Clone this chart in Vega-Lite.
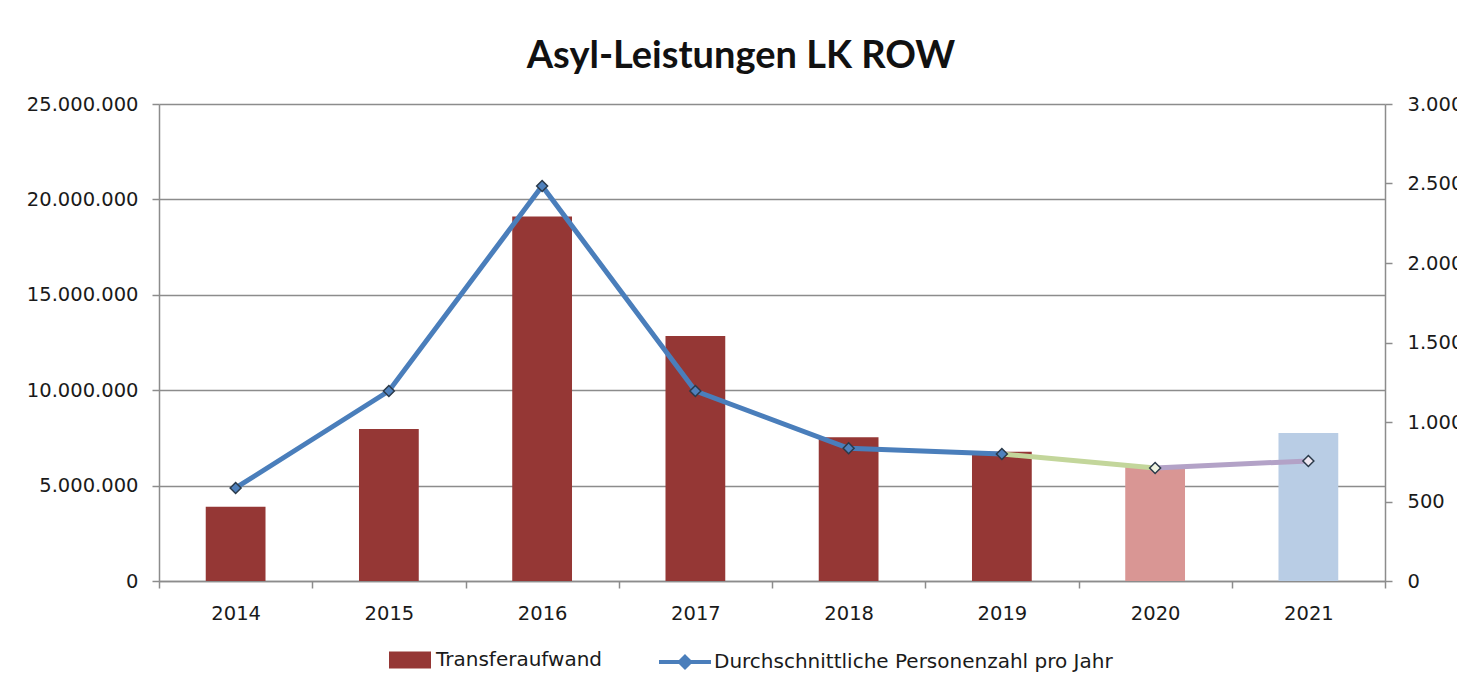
{
  "$schema": "https://vega.github.io/schema/vega-lite/v6.json",
  "width": 1226,
  "height": 477,
  "autosize": {"type": "none"},
  "padding": {"left": 159, "top": 104, "right": 72, "bottom": 107},
  "background": "white",
  "title": {
    "text": "Asyl-Leistungen LK ROW",
    "font": "Lato",
    "fontSize": 38,
    "fontWeight": "bold",
    "color": "#111111",
    "anchor": "middle",
    "dx": -31,
    "dy": 39,
    "baseline": "alphabetic",
    "offset": 27
  },
  "datasets": {
    "kosten": [
      {"Jahr": "2014", "Transferaufwand": 3890000},
      {"Jahr": "2015", "Transferaufwand": 7970000},
      {"Jahr": "2016", "Transferaufwand": 19100000},
      {"Jahr": "2017", "Transferaufwand": 12840000},
      {"Jahr": "2018", "Transferaufwand": 7530000},
      {"Jahr": "2019", "Transferaufwand": 6780000},
      {"Jahr": "2020", "Transferaufwand": 5970000},
      {"Jahr": "2021", "Transferaufwand": 7760000}
    ],
    "linie": [
      {"Jahr": "2014", "Personen": 585, "Abschnitt": "A"},
      {"Jahr": "2015", "Personen": 1195, "Abschnitt": "A"},
      {"Jahr": "2016", "Personen": 2484, "Abschnitt": "A"},
      {"Jahr": "2017", "Personen": 1195, "Abschnitt": "A"},
      {"Jahr": "2018", "Personen": 835, "Abschnitt": "A"},
      {"Jahr": "2019", "Personen": 799, "Abschnitt": "A"},
      {"Jahr": "2019", "Personen": 799, "Abschnitt": "B"},
      {"Jahr": "2020", "Personen": 711, "Abschnitt": "B"},
      {"Jahr": "2020", "Personen": 711, "Abschnitt": "C"},
      {"Jahr": "2021", "Personen": 755, "Abschnitt": "C"}
    ],
    "personen": [
      {"Jahr": "2014", "Personen": 585},
      {"Jahr": "2015", "Personen": 1195},
      {"Jahr": "2016", "Personen": 2484},
      {"Jahr": "2017", "Personen": 1195},
      {"Jahr": "2018", "Personen": 835},
      {"Jahr": "2019", "Personen": 799},
      {"Jahr": "2020", "Personen": 711},
      {"Jahr": "2021", "Personen": 755}
    ]
  },
  "layer": [
    {
      "data": {"name": "kosten"},
      "mark": {"type": "bar", "width": {"band": 0.39}},
      "encoding": {
        "x": {
          "field": "Jahr",
          "type": "ordinal",
          "scale": {"paddingInner": 0, "paddingOuter": 0},
          "axis": {"title": null, "labelAngle": 0, "tickBand": "extent", "labelPadding": 16, "grid": false}
        },
        "y": {
          "field": "Transferaufwand",
          "type": "quantitative",
          "scale": {"domain": [0, 25000000]},
          "axis": {
            "title": null,
            "values": [0, 5000000, 10000000, 15000000, 20000000, 25000000],
            "format": ",d",
            "grid": true,
            "labelPadding": 14
          }
        },
        "fill": {
          "condition": [
            {"test": "datum.Jahr === '2020'", "value": "#D99694"},
            {"test": "datum.Jahr === '2021'", "value": "#B9CDE5"}
          ],
          "datum": "Transferaufwand",
          "type": "nominal",
          "scale": {"domain": ["Transferaufwand"], "range": ["#953735"]},
          "legend": {
            "title": null,
            "orient": "none",
            "legendX": 230,
            "legendY": 535,
            "symbolType": "M-1,-0.4H1V0.4H-1Z",
            "symbolSize": 1764,
            "symbolStrokeWidth": 0,
            "labelOffset": 5
          }
        }
      }
    },
    {
      "layer": [
        {
          "data": {"name": "linie"},
          "transform": [{"filter": "datum.Abschnitt === 'A'"}],
          "mark": {"type": "line", "strokeWidth": 5},
          "encoding": {
            "x": {"field": "Jahr", "type": "ordinal"},
            "y": {"field": "Personen", "type": "quantitative"},
            "stroke": {
              "datum": "Durchschnittliche Personenzahl pro Jahr",
              "type": "nominal",
              "scale": {"domain": ["Durchschnittliche Personenzahl pro Jahr"], "range": ["#4A7EBB"]},
              "legend": {
                "title": null,
                "orient": "none",
                "legendX": 498,
                "legendY": 530,
                "symbolType": "M-1,0H1M0,-0.2L0.2,0L0,0.2L-0.2,0Z",
                "symbolSize": 2704,
                "symbolStrokeWidth": 4,
                "labelOffset": 1,
                "encode": {"symbols": {"update": {"fill": {"value": "#4F81BD"}}}}
              }
            }
          }
        },
        {
          "data": {"name": "linie"},
          "transform": [{"filter": "datum.Abschnitt === 'B'"}],
          "mark": {"type": "line", "strokeWidth": 5, "stroke": "#C3D69B"},
          "encoding": {
            "x": {"field": "Jahr", "type": "ordinal"},
            "y": {"field": "Personen", "type": "quantitative"}
          }
        },
        {
          "data": {"name": "linie"},
          "transform": [{"filter": "datum.Abschnitt === 'C'"}],
          "mark": {"type": "line", "strokeWidth": 5, "stroke": "#B3A2C7"},
          "encoding": {
            "x": {"field": "Jahr", "type": "ordinal"},
            "y": {"field": "Personen", "type": "quantitative"}
          }
        },
        {
          "data": {"name": "personen"},
          "mark": {"type": "point", "shape": "diamond", "filled": true, "size": 120, "stroke": "#2b3a4a", "strokeWidth": 1.5, "opacity": 1},
          "encoding": {
            "x": {"field": "Jahr", "type": "ordinal"},
            "y": {
              "field": "Personen",
              "type": "quantitative",
              "scale": {"domain": [0, 3000]},
              "axis": {
                "title": null,
                "orient": "right",
                "values": [0, 500, 1000, 1500, 2000, 2500, 3000],
                "format": ",d",
                "grid": false,
                "labelPadding": 15
              }
            },
            "fill": {
              "condition": [
                {"test": "datum.Jahr === '2020'", "value": "#EEF3E0"},
                {"test": "datum.Jahr === '2021'", "value": "#ECE6F0"}
              ],
              "value": "#4F81BD"
            }
          }
        }
      ]
    }
  ],
  "resolve": {"scale": {"y": "independent", "fill": "independent", "stroke": "independent"}},
  "config": {
    "locale": {"number": {"decimal": ",", "thousands": ".", "grouping": [3], "currency": ["", " €"]}},
    "view": {"stroke": null},
    "axis": {
      "labelFont": "DejaVu Sans",
      "labelFontSize": 19.5,
      "labelColor": "#1a1a1a",
      "domainColor": "#8c8c8c",
      "domainWidth": 1.5,
      "tickColor": "#8c8c8c",
      "tickWidth": 1.5,
      "tickSize": 7,
      "gridColor": "#8c8c8c",
      "gridWidth": 1.5
    },
    "legend": {
      "labelFont": "DejaVu Sans",
      "labelFontSize": 20,
      "labelColor": "#1a1a1a",
      "labelLimit": 600
    }
  }
}
